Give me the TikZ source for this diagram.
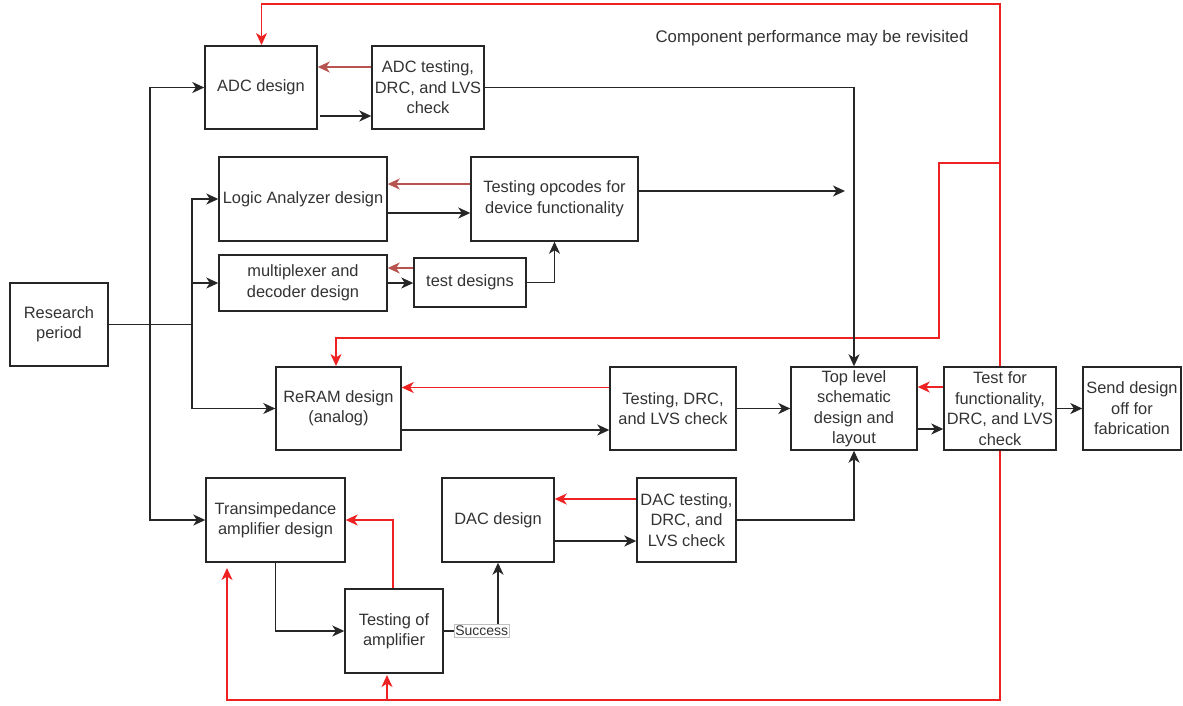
\documentclass[tikz,border=0pt]{standalone}
\usepackage{fontspec}
\setmainfont{Liberation Sans}
\usetikzlibrary{arrows.meta}
\definecolor{brn}{HTML}{B85450}
\definecolor{rd}{HTML}{EE2222}
\definecolor{txt}{HTML}{333333}
\begin{document}
\begin{tikzpicture}[x=1pt,y=-1pt,
  box/.style={draw=black!85,fill=white,line width=1.4pt,align=center,inner sep=0pt,
    text=txt,font=\fontsize{16.4}{20.5}\selectfont},
  ln/.style={draw=black!85,line width=1.5pt},
  arr/.style={ln,-{Stealth[length=12pt,width=11pt,inset=3.5pt]}},
  brnarr/.style={draw=brn,line width=1.5pt,-{Stealth[length=12pt,width=11pt,inset=3.5pt]}},
  redln/.style={draw=rd,line width=1.5pt},
  redarr/.style={redln,-{Stealth[length=12pt,width=11pt,inset=3.5pt]}},
  lbl/.style={fill=white,draw=black!25,line width=0.5pt,inner sep=1.5pt,text=txt,
    font=\fontsize{14}{16}\selectfont},
  note/.style={text=txt,font=\fontsize{16.8}{20}\selectfont,inner sep=0pt}]
\useasboundingbox (0,0) rectangle (1183,705);
% coordinates for buses and feedback lines
\coordinate (ja) at (150,324.5);
\coordinate (jb) at (192,324.5);
\coordinate (opend) at (845,191);
\coordinate (rtop) at (1000,4);
\coordinate (rmid) at (939,163);
\coordinate (rlow) at (939,338);
\coordinate (rbot) at (1000,700);
% red feedback lines (behind boxes)
\draw[redarr] (1000,408.5) -- (rtop) -| (261.5,45);
\draw[redarr] (1000,408.5) |- (rmid) -- (rlow) -| (336,366);
\draw[redarr] (1000,408.5) -- (rbot) -| (227,568);
\draw[redarr] (rbot) -| (387,675);
% boxes
\node[box,minimum width=98pt,minimum height=83pt] (res) at (59,324.5) {Research\\period};
\node[box,minimum width=112pt,minimum height=83pt] (adc) at (261,87.5) {ADC design};
\node[box,minimum width=112pt,minimum height=83pt] (adct) at (428,87.5) {ADC testing,\\DRC, and LVS\\check};
\node[box,minimum width=168pt,minimum height=84pt] (la) at (303,199) {Logic Analyzer design};
\node[box,minimum width=167pt,minimum height=84pt] (op) at (554.5,199) {Testing opcodes for\\device functionality};
\node[box,minimum width=168pt,minimum height=56pt] (mux) at (303,283) {multiplexer and\\decoder design};
\node[box,minimum width=112pt,minimum height=49pt] (td) at (470,282.5) {test designs};
\node[box,minimum width=125pt,minimum height=83pt] (rr) at (338.5,408.5) {ReRAM design\\(analog)};
\node[box,minimum width=126pt,minimum height=83pt] (rrt) at (673,408.5) {Testing, DRC,\\and LVS check};
\node[box,minimum width=126pt,minimum height=83pt] (tl) at (854,408.5) {Top level\\schematic\\design and\\layout};
\node[box,minimum width=112pt,minimum height=83pt] (tf) at (1000,408.5) {Test for\\functionality,\\DRC, and LVS\\check};
\node[box,minimum width=98pt,minimum height=83pt] (send) at (1132,408.5) {Send design\\off for\\fabrication};
\node[box,minimum width=139pt,minimum height=84pt] (tia) at (275.5,520) {Transimpedance\\amplifier design};
\node[box,minimum width=112pt,minimum height=84pt] (dac) at (498,520) {DAC design};
\node[box,minimum width=99pt,minimum height=84pt] (dact) at (686.5,520) {DAC testing,\\DRC, and\\LVS check};
\node[box,minimum width=98pt,minimum height=84pt] (ta) at (394,631) {Testing of\\amplifier};
\node[note] (nt) at (812,38) {Component performance may be revisited};
% research buses
\draw[ln] (res.east) -- (jb);
\draw[arr] (ja) |- (adc.west);
\draw[arr] (ja) |- (tia.west);
\draw[arr] (jb) |- (la.west);
\draw[arr] (jb) |- (mux.west);
\draw[arr] (jb) |- (rr.west);
% ADC
\draw[brnarr] ([yshift=20.5pt]adct.west) -- ([yshift=20.5pt]adc.east);
\draw[arr] ([xshift=2pt,yshift=-28.5pt]adc.east) -- ([yshift=-28.5pt]adct.west);
\draw[arr] (adct.east) -| (tl.north);
% Logic analyzer
\draw[brnarr] ([yshift=15pt]op.west) -- ([yshift=15pt]la.east);
\draw[arr] ([yshift=-14pt]la.east) -- ([yshift=-14pt]op.west);
\draw[arr] ([yshift=8pt]op.east) -- (opend);
% mux
\draw[brnarr] ([yshift=14.5pt]td.west) -- ([yshift=14.5pt]td.west -| mux.east);
\draw[arr] (mux.east) -- (mux.east -| td.west);
\draw[arr] (td.east) -| (op.south);
% ReRAM
\draw[redarr] ([yshift=21pt]rrt.west) -- ([yshift=21pt]rr.east);
\draw[arr] ([yshift=-21.5pt]rr.east) -- ([yshift=-21.5pt]rrt.west);
\draw[arr] (rrt.east) -- (tl.west);
% top level
\draw[redarr] ([yshift=21.5pt]tf.west) -- ([yshift=21.5pt]tl.east);
\draw[arr] ([yshift=-20.5pt]tl.east) -- ([yshift=-20.5pt]tf.west);
\draw[arr] (tf.east) -- (send.west);
% DAC
\draw[redarr] ([yshift=21pt]dact.west) -- ([yshift=21pt]dac.east);
\draw[arr] ([yshift=-21pt]dac.east) -- ([yshift=-21pt]dact.west);
\draw[arr] (dact.east) -| (tl.south);
% TIA
\draw[arr] (tia.south) |- (ta.west);
\draw[redarr] ([xshift=-1pt]ta.north) |- (tia.east);
\draw[arr] (ta.east) -| (dac.south) node[pos=0.35,lbl] (succ) {Success};
\end{tikzpicture}
\end{document}
